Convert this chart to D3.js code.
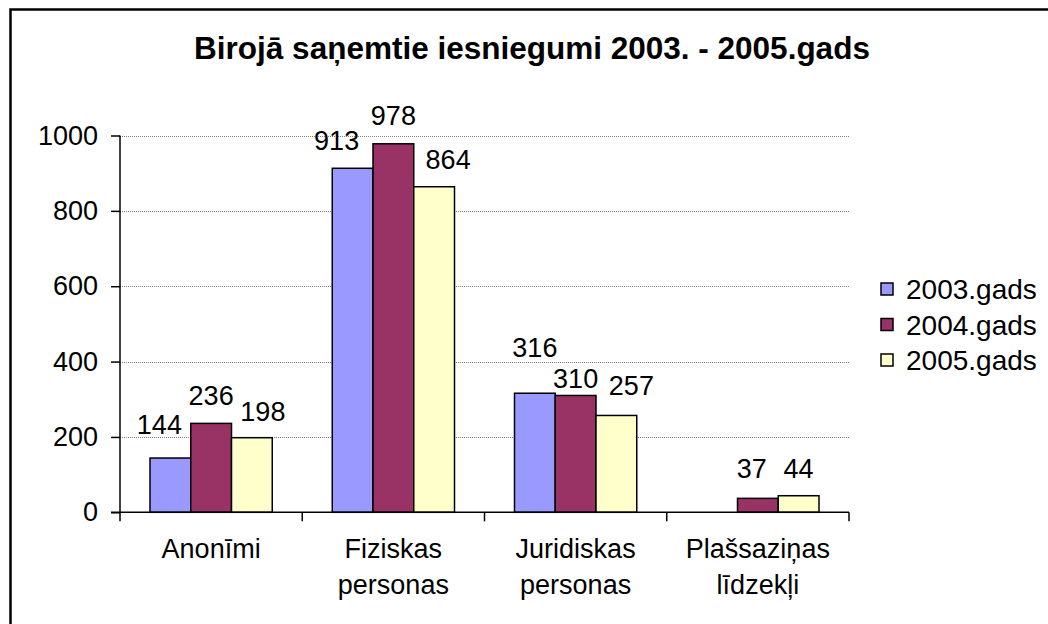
<!DOCTYPE html>
<html>
<head>
<meta charset="utf-8">
<script src="https://cdn.jsdelivr.net/npm/d3@7"></script>
<style>
    body { margin: 0; background: #fff; }
    text { font-family: "Liberation Sans", Arial, sans-serif; fill: #000; }
    .grid line { stroke: #808080; stroke-dasharray: 1,1; }
    .axis path, .axis line { stroke: #000; stroke-width: 1.5; }
</style>
</head>
<body>
<script>
(function(){

    var categories = [["Anonīmi"], ["Fiziskas", "personas"], ["Juridiskas", "personas"], ["Plašsaziņas", "līdzekļi"]];
    var seriesNames = ["2003.gads", "2004.gads", "2005.gads"];
    var values2003 = [144, 913, 316, null];
    var values2004 = [236, 978, 310, 37];
    var values2005 = [198, 864, 257, 44];
    var yTicks = [0, 200, 400, 600, 800, 1000];

    // label nudges (px) as placed in the original
    var labelDx = [[-11, 0, 11], [-16, 0, 14], [0, 0, 15], [0, -6, 0]];
    var labelRise = [[24, 18, 17], [18, 19, 18], [36, 7, 20], [0, 20, 18]];

    var colors = ["#9999ff", "#993366", "#ffffcc"];
    var allSeries = [values2003, values2004, values2005];

    var width = 1048, height = 624;
    var left = 120, right = 849, top = 135.5, bottom = 512.3;
    var fontSize = "27px";

    var svg = d3.select("body").append("svg")
        .attr("width", width)
        .attr("height", height);

    svg.append("rect")
        .attr("x", 10.5).attr("y", 9.5)
        .attr("width", 1100).attr("height", 700)
        .attr("fill", "none")
        .attr("stroke", "#000")
        .attr("stroke-width", 2.5);

    svg.append("text")
        .attr("x", 532)
        .attr("y", 59)
        .attr("text-anchor", "middle")
        .style("font-size", "31.5px")
        .style("font-weight", "bold")
        .text("Birojā saņemtie iesniegumi 2003. - 2005.gads");

    var yScale = d3.scaleLinear().domain([0, 1000]).range([bottom, top]);
    var xScale = d3.scaleBand().domain(d3.range(categories.length)).range([left, right]);
    var inner = d3.scaleBand().domain(d3.range(seriesNames.length))
        .range([30, xScale.bandwidth() - 30]);

    // gridlines
    svg.append("g").attr("class", "grid")
        .selectAll("line")
        .data(yTicks.filter(function(d) { return d > 0; }))
        .enter().append("line")
        .attr("x1", left).attr("x2", right)
        .attr("y1", function(d) { return Math.round(yScale(d)) + 0.5; })
        .attr("y2", function(d) { return Math.round(yScale(d)) + 0.5; });

    // bars
    allSeries.forEach(function(vals, s) {
        vals.forEach(function(v, i) {
            if (v === null) return;
            svg.append("rect")
                .attr("x", xScale(i) + inner(s))
                .attr("y", yScale(v))
                .attr("width", inner.bandwidth())
                .attr("height", bottom - yScale(v))
                .attr("fill", colors[s])
                .attr("stroke", "#000")
                .attr("stroke-width", 1.5);
        });
    });

    // data labels
    allSeries.forEach(function(vals, s) {
        vals.forEach(function(v, i) {
            if (v === null) return;
            svg.append("text")
                .attr("x", xScale(i) + inner(s) + inner.bandwidth() / 2 + labelDx[i][s])
                .attr("y", yScale(v) - labelRise[i][s])
                .attr("text-anchor", "middle")
                .style("font-size", fontSize)
                .text(v);
        });
    });

    // y axis
    var yAxis = d3.axisLeft(yScale).tickValues(yTicks).tickFormat(d3.format("d"))
        .tickSize(9).tickPadding(13);
    var ya = svg.append("g").attr("class", "axis")
        .attr("transform", "translate(" + left + ",0)")
        .call(yAxis);
    ya.select(".domain").attr("d", "M0," + top + "V" + bottom);
    ya.selectAll("text").style("font-size", fontSize);

    // x axis
    var xa = svg.append("g").attr("class", "axis");
    xa.append("line")
        .attr("x1", left - 9).attr("x2", right)
        .attr("y1", bottom).attr("y2", bottom);
    xa.selectAll(".xt")
        .data(d3.range(categories.length + 1))
        .enter().append("line")
        .attr("x1", function(d) { return left + d * xScale.bandwidth(); })
        .attr("x2", function(d) { return left + d * xScale.bandwidth(); })
        .attr("y1", bottom).attr("y2", bottom + 9);

    categories.forEach(function(lines, i) {
        var cx = xScale(i) + xScale.bandwidth() / 2;
        var t = svg.append("text")
            .attr("y", 558)
            .attr("text-anchor", "middle")
            .style("font-size", fontSize);
        lines.forEach(function(l, k) {
            t.append("tspan")
                .attr("x", cx)
                .attr("dy", k === 0 ? 0 : 36)
                .text(l);
        });
    });

    // legend
    var legend = svg.append("g").attr("transform", "translate(881,289)");
    seriesNames.forEach(function(name, s) {
        var g = legend.append("g").attr("transform", "translate(0," + s * 35.5 + ")");
        g.append("rect")
            .attr("x", 0).attr("y", -6)
            .attr("width", 12).attr("height", 12)
            .attr("fill", colors[s])
            .attr("stroke", "#000")
            .attr("stroke-width", 1.5);
        g.append("text")
            .attr("x", 25).attr("y", 10)
            .style("font-size", "28px")
            .text(name);
    });

})();
</script>
</body>
</html>
